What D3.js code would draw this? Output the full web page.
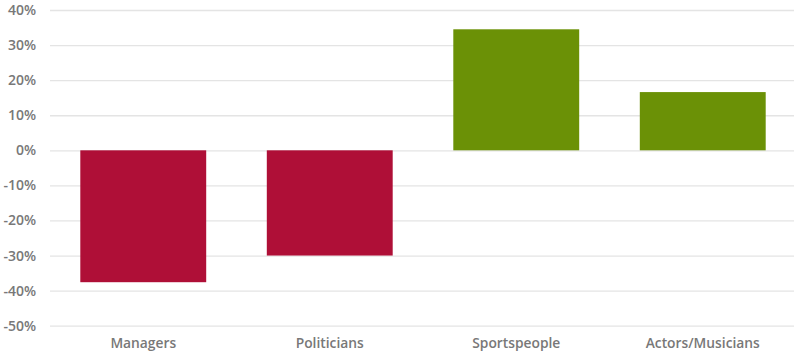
<!DOCTYPE html>
<html><head><meta charset="utf-8">
<script src="https://cdn.jsdelivr.net/npm/d3@7"></script>
<style>body{margin:0;background:#fff}svg{display:block}</style>
</head><body>
<svg id="c" width="794" height="356"></svg>
<script>
const categories = ["Managers", "Politicians", "Sportspeople", "Actors/Musicians"];
const values = [-0.376, -0.30, 0.345, 0.166];
const yTicks = [0.4, 0.3, 0.2, 0.1, 0, -0.1, -0.2, -0.3, -0.4, -0.5];
const colorNeg = "#AF0F37", colorPos = "#6B9106";

const svg = d3.select("#c");
const x = d3.scaleBand().domain(categories).range([50, 796]).paddingInner(0.325).paddingOuter(0.1625);
const y = d3.scaleLinear().domain([-0.5, 0.4]).range([325.7, 10]);
const font = "'Open Sans', sans-serif";

const yAxis = d3.axisLeft(y).tickValues(yTicks).tickFormat(d => Math.round(d*100) + "%").tickSize(-746).tickPadding(14);
const gy = svg.append("g").attr("transform", "translate(50,0)").call(yAxis);
gy.select(".domain").remove();
gy.selectAll(".tick line").attr("stroke", "#e4e4e4").attr("stroke-width", 1.3);
gy.selectAll(".tick text").attr("fill", "#787878").attr("font-family", font).attr("font-weight", "600").attr("font-size", 14);

svg.append("g").selectAll("rect").data(values).join("rect")
  .attr("x", (d,i) => x(categories[i]))
  .attr("width", x.bandwidth())
  .attr("y", d => y(Math.max(0, d)))
  .attr("height", d => Math.abs(y(d) - y(0)))
  .attr("fill", d => d < 0 ? colorNeg : colorPos);

const xAxis = d3.axisBottom(x).tickSize(0).tickPadding(0);
const gx = svg.append("g").attr("transform", "translate(0,343)").call(xAxis);
gx.select(".domain").remove();
gx.selectAll(".tick text").attr("fill", "#787878").attr("font-family", font).attr("font-weight", "600").attr("font-size", 13.8).attr("dy", "0.35em");
</script>
</body></html>
